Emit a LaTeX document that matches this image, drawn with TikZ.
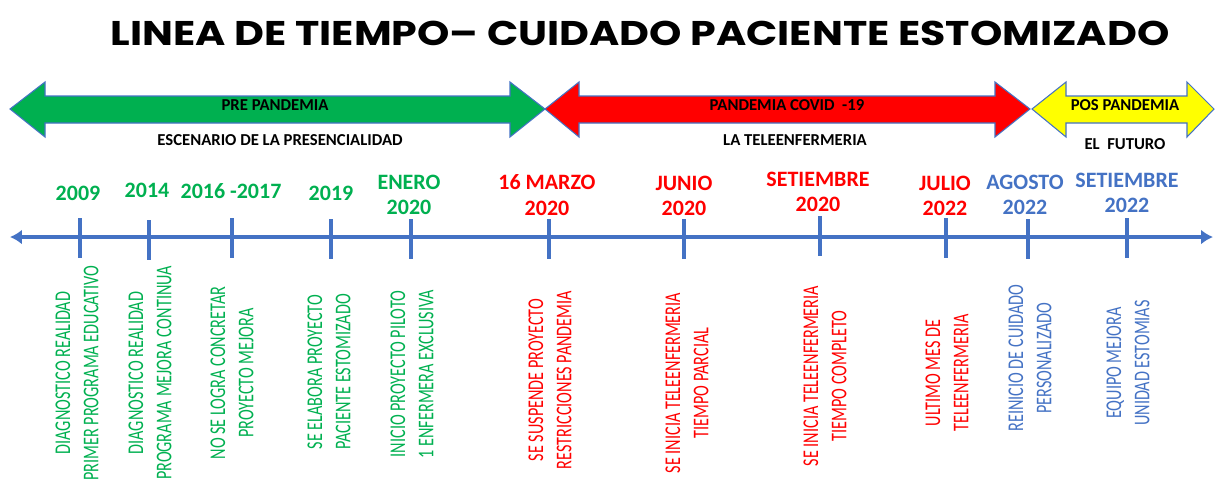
\documentclass[tikz,border=0pt]{standalone}
\usepackage{fontspec}
\setmainfont{Carlito}
\newfontfamily\titlefont{Poppins}[FakeStretch=1.2]
\newfontfamily\narrowfont{Carlito}[FakeStretch=0.72]
\usetikzlibrary{arrows.meta}
\definecolor{vgreen}{HTML}{00B050}
\definecolor{vred}{HTML}{FF0000}
\definecolor{vblue}{HTML}{4472C4}
\definecolor{vyellow}{HTML}{FFFF00}
\tikzset{x=0.02cm,y=-0.02cm}
\tikzset{band/.style={draw=vblue,line width=0.6pt}}
\tikzset{bandlabel/.style={font=\bfseries\fontsize{9.5}{11}\selectfont}}
\tikzset{axis/.style={vblue,line width=2.3pt,{Latex[length=0.24cm,width=0.3cm]}-{Latex[length=0.24cm,width=0.3cm]}}}
\tikzset{tick/.style={fill=vblue,inner sep=0pt,minimum width=0.09cm,minimum height=0.8cm}}
\tikzset{datelabel/.style={font=\bfseries\fontsize{12.5}{14.6}\selectfont,align=center,inner sep=0pt}}
\tikzset{event/.style={font=\narrowfont\fontsize{12.8}{16}\selectfont,align=center,rotate=90,inner sep=0pt}}

\begin{document}
\begin{tikzpicture}
\useasboundingbox (0,0) rectangle (1215,485);
\node[name=title,font=\titlefont\bfseries\fontsize{19.5}{22}\selectfont] at (640,33) {LINEA DE TIEMPO– CUIDADO PACIENTE ESTOMIZADO};
% periods
\draw[band,fill=vgreen] (10,109) -- (45,82) -- (45,96) -- (510,96) -- (510,82) -- (545,109) -- (510,137) -- (510,123) -- (45,123) -- (45,137) -- cycle;
\draw[band,fill=vred] (545,109) -- (579,82) -- (579,96) -- (995,96) -- (995,82) -- (1030,109) -- (995,137) -- (995,123) -- (579,123) -- (579,137) -- cycle;
\draw[band,fill=vyellow] (1032,109) -- (1066,82) -- (1066,96) -- (1187,96) -- (1187,82) -- (1214,109) -- (1187,137) -- (1187,123) -- (1066,123) -- (1066,137) -- cycle;
\node[bandlabel,name=pre] at (275,105) {PRE PANDEMIA};
\node[bandlabel,name=covid] at (787,105) {PANDEMIA COVID~ -19};
\node[bandlabel,name=pos] at (1125,105) {POS PANDEMIA};
\node[bandlabel,name=presencial] at (280,140) {ESCENARIO DE LA PRESENCIALIDAD};
\node[bandlabel,name=tele] at (795,140) {LA TELEENFERMERIA};
\node[bandlabel,name=futuro] at (1125,144) {EL~ FUTURO};
% axis
\coordinate (axl) at (10,237);
\coordinate (axr) at (1213,237);
\draw[axis] (axl) -- (axr);
\node[tick,name=t1] at (80,238) {};
\node[tick,name=t2] at (149,240) {};
\node[tick,name=t3] at (232,238) {};
\node[tick,name=t4] at (331,239) {};
\node[tick,name=t5] at (411,239) {};
\node[tick,name=t6] at (549,239) {};
\node[tick,name=t7] at (684,239) {};
\node[tick,name=t8] at (820,236) {};
\node[tick,name=t9] at (946,238) {};
\node[tick,name=t10] at (1028,239) {};
\node[tick,name=t11] at (1127,238) {};
% dates
\node[datelabel,vgreen,name=d1] at (78,193) {2009};
\node[datelabel,vgreen,name=d2] at (147,190) {2014};
\node[datelabel,vgreen,name=d3] at (231,191) {2016 -2017};
\node[datelabel,vgreen,name=d4] at (331,193) {2019};
\node[datelabel,vgreen,name=d5] at (409,195) {ENERO\\2020};
\node[datelabel,vred,name=d6] at (547,195) {16 MARZO\\2020};
\node[datelabel,vred,name=d7] at (684,196) {JUNIO\\2020};
\node[datelabel,vred,name=d8] at (818,192) {SETIEMBRE\\2020};
\node[datelabel,vred,name=d9] at (945,196) {JULIO\\2022};
\node[datelabel,vblue,name=d10] at (1025,195) {AGOSTO\\2022};
\node[datelabel,vblue,name=d11] at (1127,193) {SETIEMBRE\\2022};
% events
\node[event,vgreen,name=e1] at (77,373) {DIAGNOSTICO REALIDAD\\PRIMER PROGRAMA EDUCATIVO};
\node[event,vgreen,name=e2] at (150,373) {DIAGNOSTICO REALIDAD\\PROGRAMA MEJORA CONTINUA};
\node[event,vgreen,name=e3] at (232,373) {NO SE LOGRA CONCRETAR\\PROYECTO MEJORA};
\node[event,vgreen,name=e4] at (329,372) {SE ELABORA PROYECTO\\PACIENTE ESTOMIZADO};
\node[event,vgreen,name=e5] at (412,374) {INICIO PROYECTO PILOTO\\1 ENFERMERA EXCLUSIVA};
\node[event,vred,name=e6] at (550,380) {SE SUSPENDE PROYECTO\\RESTRICCIONES PANDEMIA};
\node[event,vred,name=e7] at (687,383) {SE INICIA TELEENFERMERIA\\TIEMPO PARCIAL};
\node[event,vred,name=e8] at (825,376) {SE INICIA TELEENFERMERIA\\TIEMPO COMPLETO};
\node[event,vred,name=e9] at (947,373) {ULTIMO MES DE\\TELEENFERMERIA};
\node[event,vblue,name=e10] at (1030,358) {REINICIO DE CUIDADO\\PERSONALIZADO};
\node[event,vblue,name=e11] at (1128,363) {EQUIPO MEJORA\\UNIDAD ESTOMIAS};
\end{tikzpicture}
\end{document}
